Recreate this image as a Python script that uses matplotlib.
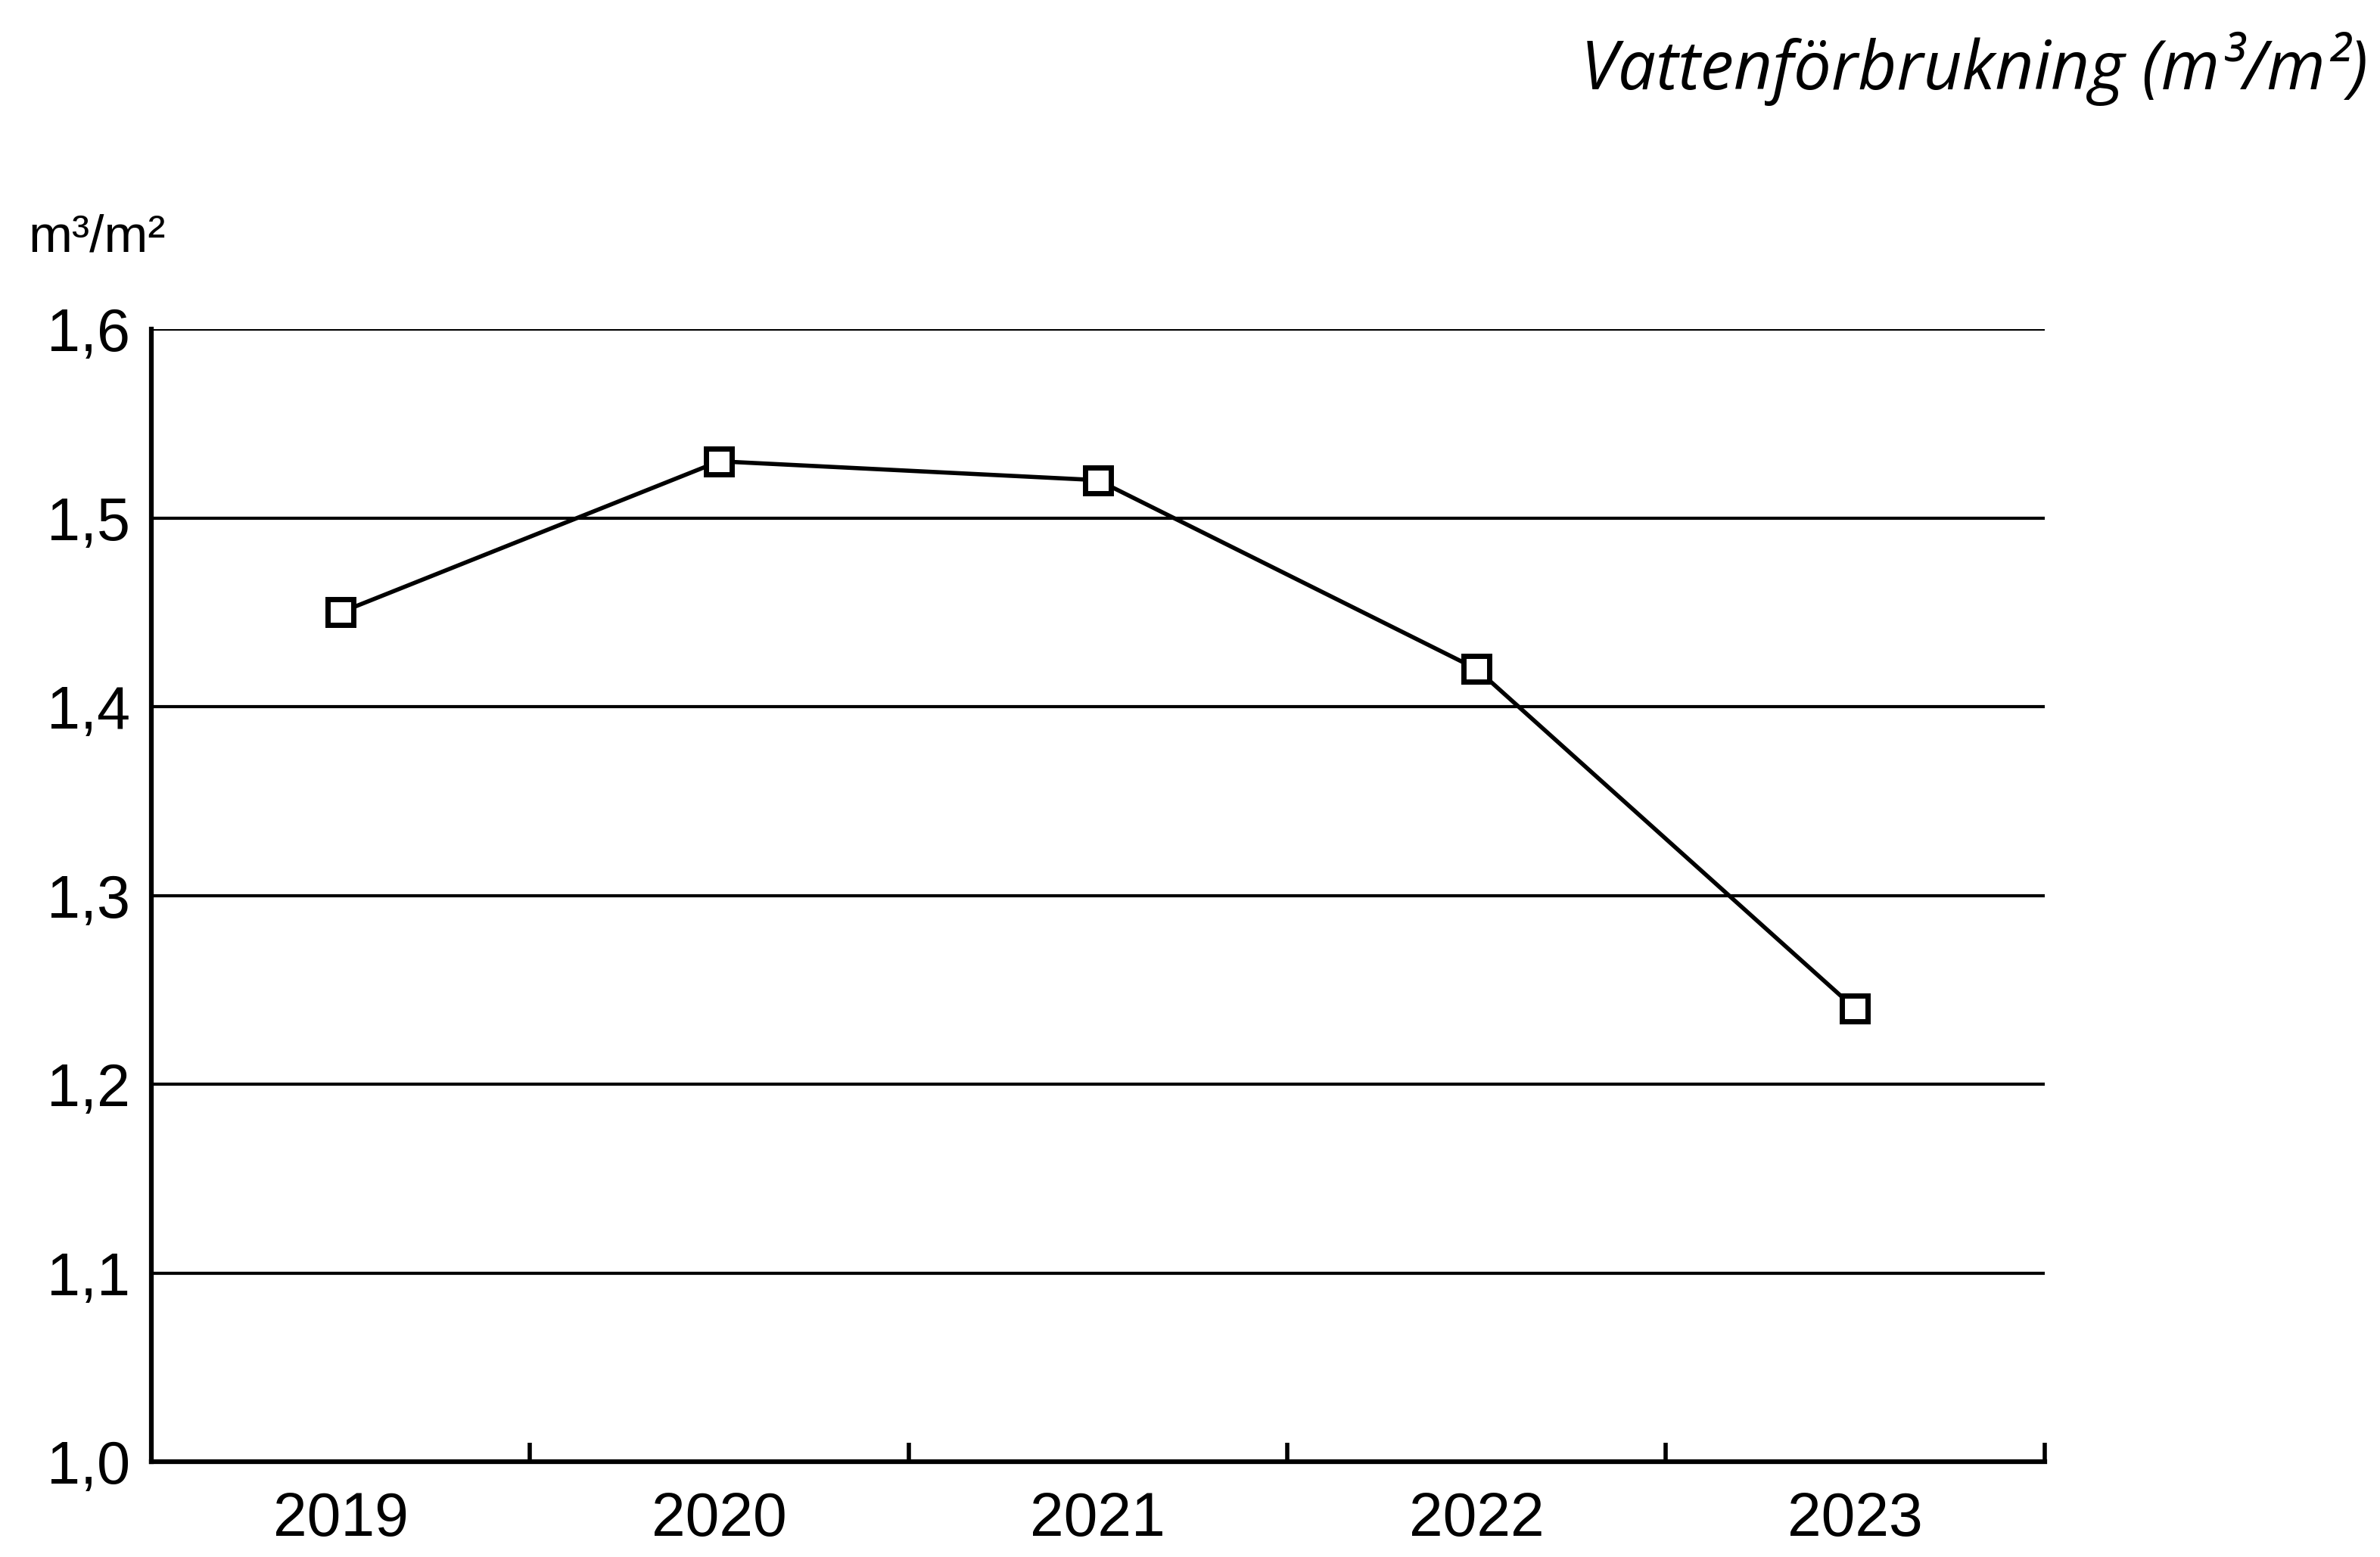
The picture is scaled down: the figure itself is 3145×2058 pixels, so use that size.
import matplotlib.pyplot as plt
import numpy as np

years = ["2019", "2020", "2021", "2022", "2023"]
water = [1.45, 1.53, 1.52, 1.42, 1.24]
yticks = [1.0, 1.1, 1.2, 1.3, 1.4, 1.5, 1.6]
ylabels = ["1,0", "1,1", "1,2", "1,3", "1,4", "1,5", "1,6"]

# condensed look-alike
narrow = ["Liberation Sans Narrow", "Liberation Sans", "DejaVu Sans"]

fig = plt.figure(figsize=(31.45, 20.58), dpi=100)
ax = fig.add_axes([0.0636, 0.0612, 0.7954, 0.7274])

x = np.arange(len(years))
ax.plot(x, water, color="black", lw=4, marker="s", markersize=25,
        markerfacecolor="white", markeredgecolor="black", markeredgewidth=5,
        zorder=3)

ax.set_xlim(-0.5, len(years) - 0.5)
ax.set_ylim(1.0, 1.6)

# grid lines
for v in yticks[1:]:
    ax.axhline(v, color="black", lw=3, zorder=1)

for s in ["top", "right"]:
    ax.spines[s].set_visible(False)
ax.spines["left"].set_linewidth(4.5)
ax.spines["bottom"].set_linewidth(4.5)

ax.set_yticks(yticks)
ax.set_yticklabels(ylabels, fontsize=57, family=narrow)
ax.tick_params(axis="y", length=0, pad=20)

ax.set_xticks(x)
ax.set_xticklabels(years, fontsize=58, family=narrow)
ax.tick_params(axis="x", which="major", length=0, pad=28)
ax.set_xticks(np.arange(0.5, len(years), 1.0), minor=True)
ax.tick_params(axis="x", which="minor", direction="in", length=18, width=4)

fig.text(0.012, 0.847, "m³/m²", fontsize=50, family=narrow, va="center", ha="left")
fig.text(0.995, 0.956, "Vattenförbrukning (m³/m²)", fontsize=64, family="Open Sans",
         style="italic", ha="right", va="center")

fig.savefig("out.png", dpi=100)
